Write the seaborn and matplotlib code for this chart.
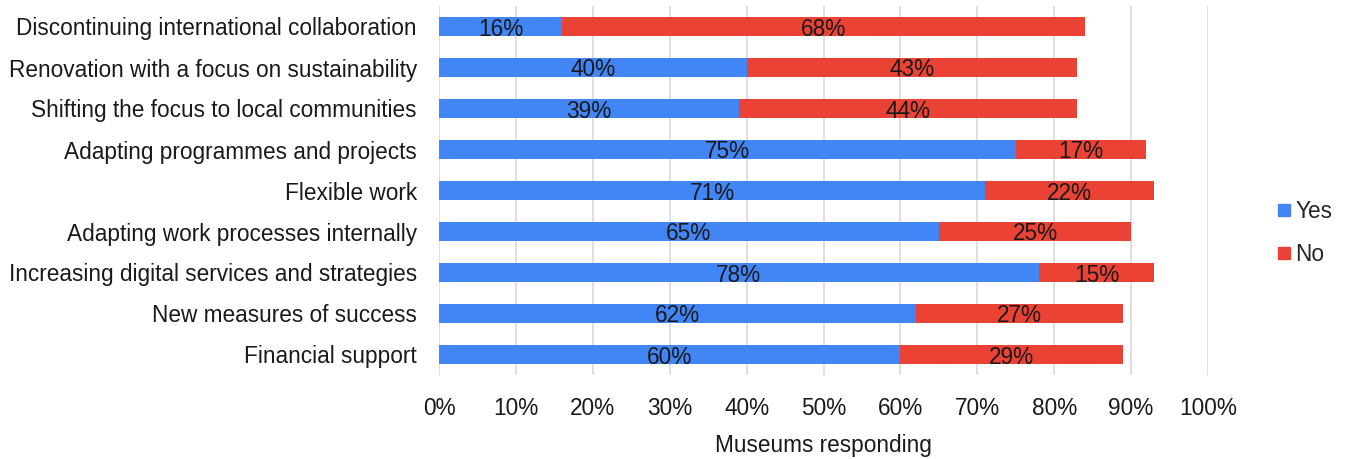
import pandas as pd
import seaborn as sns
import matplotlib.pyplot as plt
from matplotlib.lines import Line2D

categories = [
    "Discontinuing international collaboration",
    "Renovation with a focus on sustainability",
    "Shifting the focus to local communities",
    "Adapting programmes and projects",
    "Flexible work",
    "Adapting work processes internally",
    "Increasing digital services and strategies",
    "New measures of success",
    "Financial support",
]
yes_values = [16, 40, 39, 75, 71, 65, 78, 62, 60]
no_values = [68, 43, 44, 17, 22, 25, 15, 27, 29]
x_ticks = [0, 10, 20, 30, 40, 50, 60, 70, 80, 90, 100]

BLUE = "#4285F4"
RED = "#EA4335"
TXT = "#1a1a1a"
FS = 16.3

df = pd.DataFrame({"category": categories, "yes": yes_values, "no": no_values})
df["total"] = df["yes"] + df["no"]

sns.set_theme(style="white")
plt.rcParams["font.family"] = ["Liberation Sans", "DejaVu Sans"]

fig = plt.figure(figsize=(13.49, 4.59), dpi=100)
ax = fig.add_axes([439 / 1349, 1 - 375 / 459, 769 / 1349, 369 / 459])

# stacked: draw total (No) first, then Yes over it
sns.barplot(data=df, x="total", y="category", color=RED, width=0.44,
            saturation=1, linewidth=0, ax=ax, zorder=3)
sns.barplot(data=df, x="yes", y="category", color=BLUE, width=0.44,
            saturation=1, linewidth=0, ax=ax, zorder=4)

for i, row in df.iterrows():
    ax.text(row["yes"] / 2, i, f"{row['yes']}%", ha="center",
            va="center_baseline", fontsize=FS, color=TXT, zorder=5)
    ax.text(row["yes"] + row["no"] / 2, i, f"{row['no']}%", ha="center",
            va="center_baseline", fontsize=FS, color=TXT, zorder=5)

ax.set_xlim(0, 100)
ax.set_ylim(8.5, -0.5)
ax.set_xticks(x_ticks)
ax.set_xticklabels([f"{t}%" for t in x_ticks])
ax.xaxis.grid(True, color="#d9d9d9", linewidth=1.2, zorder=0)
ax.set_axisbelow(True)
for s in ax.spines.values():
    s.set_visible(False)
ax.tick_params(axis="both", length=0, labelsize=FS, colors=TXT)
ax.tick_params(axis="x", pad=16)
ax.tick_params(axis="y", pad=16)
ax.set_ylabel("")
ax.set_xlabel("Museums responding", fontsize=FS, color=TXT, labelpad=10)

handles = [
    Line2D([], [], marker="s", linestyle="", color=BLUE, markersize=8),
    Line2D([], [], marker="s", linestyle="", color=RED, markersize=8),
]
fig.legend(handles, ["Yes", "No"], loc="center left",
           bbox_to_anchor=(1252 / 1349, 1 - 233 / 459), frameon=False,
           fontsize=FS, handletextpad=0.0, labelspacing=0.9,
           handlelength=1.0)

fig.savefig("out.png", dpi=100)
